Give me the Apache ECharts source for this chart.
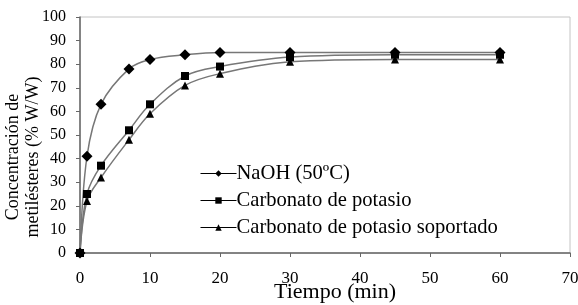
<!DOCTYPE html>
<html>
<head>
<meta charset="utf-8">
<script src="https://cdn.jsdelivr.net/npm/echarts@6/dist/echarts.min.js"></script>
<style>
  html, body { margin: 0; padding: 0; background: #fff; }
  #chart { width: 578px; height: 305px; }
</style>
</head>
<body>
<div id="chart"></div>
<script>
const tiempo = [0, 1, 3, 7, 10, 15, 20, 30, 45, 60];
const naoh = [0, 41, 63, 78, 82, 84, 85, 85, 85, 85];
const carbonato = [0, 25, 37, 52, 63, 75, 79, 83, 84, 84];
const soportado = [0, 22, 32, 48, 59, 71, 76, 81, 82, 82];

const seriesNames = ["NaOH (50ºC)", "Carbonato de potasio", "Carbonato de potasio soportado"];
const font = "'Liberation Serif', 'Times New Roman', serif";

function pairs(ys) {
  return tiempo.map((t, i) => [t, ys[i]]);
}

function makeSeries(name, ys, symbol, size) {
  return {
    name: name,
    type: "line",
    data: pairs(ys),
    smooth: 0.35,
    symbol: symbol,
    symbolSize: size,
    showAllSymbol: true,
    itemStyle: { color: "#000" },
    lineStyle: { color: "#777", width: 1.5 },
    emphasis: { disabled: true },
  };
}

const chart = echarts.init(document.getElementById("chart"), null, { renderer: "canvas" });

chart.setOption({
  animation: false,
  textStyle: { fontFamily: font, color: "#000" },
  grid: {
    left: 80, right: 8, top: 17, bottom: 52,
    containLabel: false,
    outerBoundsMode: "none",
    show: true, borderColor: "#c4c4c4", borderWidth: 1,
  },
  legend: {
    orient: "vertical",
    left: 200,
    top: 163,
    padding: 0,
    itemWidth: 36,
    itemHeight: 8,
    itemGap: 6,
    lineStyle: { color: "#000", width: 1 },
    textStyle: { fontFamily: font, fontSize: 20.6, color: "#000", padding: [0, 0, 0, -5] },
    data: seriesNames,
  },
  xAxis: {
    type: "value",
    min: 0, max: 70, interval: 10,
    name: "Tiempo (min)",
    nameLocation: "middle",
    nameGap: 28,
    nameMoveOverlap: false,
    nameTextStyle: { fontFamily: font, fontSize: 22, color: "#000", padding: [0, 0, 0, 20] },
    axisLine: { show: true, lineStyle: { color: "#666", width: 1.5 } },
    axisTick: { show: true, length: 4, lineStyle: { color: "#666" } },
    axisLabel: { fontFamily: font, fontSize: 17, color: "#000", margin: 17 },
    splitLine: { show: false },
  },
  yAxis: {
    type: "value",
    min: 0, max: 100, interval: 10,
    name: "Concentración de\nmetilésteres (% W/W)",
    nameLocation: "middle",
    nameGap: 37,
    nameMoveOverlap: false,
    nameTextStyle: { fontFamily: font, fontSize: 18, color: "#000", lineHeight: 20, padding: [0, 44, 0, 0] },
    axisLine: { show: true, lineStyle: { color: "#666", width: 1.5 } },
    axisTick: { show: true, length: 4, lineStyle: { color: "#666" } },
    axisLabel: { fontFamily: font, fontSize: 16, color: "#000", margin: 14 },
    splitLine: { show: false },
  },
  series: [
    makeSeries(seriesNames[0], naoh, "diamond", 11),
    makeSeries(seriesNames[1], carbonato, "rect", 8),
    makeSeries(seriesNames[2], soportado, "triangle", 8),
  ],
});
</script>
</body>
</html>
